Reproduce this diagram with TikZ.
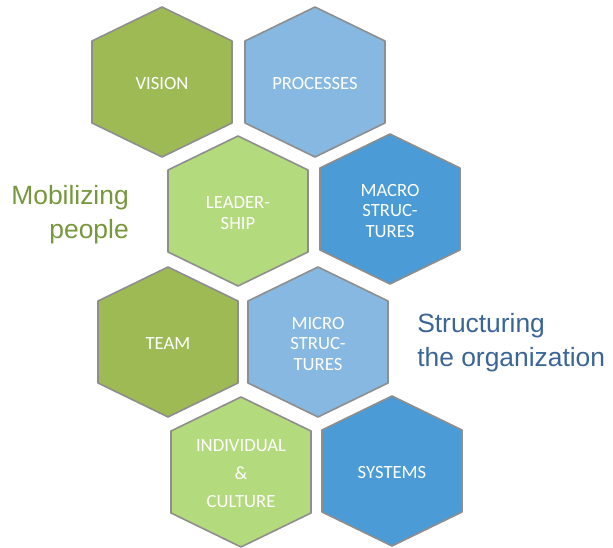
\documentclass[tikz,border=0pt]{standalone}
\usepackage{fontspec}
\setmainfont{Carlito}
\newfontfamily\arialfont{Liberation Sans}
\definecolor{olive}{HTML}{9DBA55}
\definecolor{lgreen}{HTML}{B3DA7C}
\definecolor{lblue}{HTML}{86B8E1}
\definecolor{dblue}{HTML}{4A9BD6}
\definecolor{edgegray}{HTML}{8E8E8E}
\definecolor{mobgreen}{HTML}{76973C}
\definecolor{strblue}{HTML}{3A6596}
\tikzset{
  hexline/.style={draw=edgegray, line width=1.2pt, line join=round},
  hextext/.style={text=white, font=\fontsize{14}{15.5}\selectfont, align=center, inner sep=0pt},
  sidetext/.style={font=\arialfont\fontsize{19.8}{25.5}\selectfont, inner sep=0pt},
}
\newcommand{\hexcell}[5]{%
  \draw[hexline, fill=#3] (#1,#2) ++(0,-75) -- ++(70,34) -- ++(0,82) -- ++(-70,34) -- ++(-70,-34) -- ++(0,-82) -- cycle;
  \node[hextext] (#4) at ([yshift=-1.5pt]#1,#2) {#5};
}
\begin{document}
\begin{tikzpicture}[x=0.75pt, y=-0.75pt]
\useasboundingbox (0,0) rectangle (613,548);
\hexcell{162}{82}{olive}{vision}{VISION}
\hexcell{315}{82}{lblue}{processes}{PROCESSES}
\hexcell{238}{211}{lgreen}{leadership}{LEADER-\\SHIP}
\hexcell{390}{209}{dblue}{macro}{MACRO\\STRUC-\\TURES}
\hexcell{168}{342}{olive}{team}{TEAM}
\hexcell{318}{342}{lblue}{micro}{MICRO\\STRUC-\\TURES}
\hexcell{241}{472}{lgreen}{individual}{INDIVIDUAL\\[5.5pt]\&\\[5.5pt]CULTURE}
\hexcell{392}{471}{dblue}{systems}{SYSTEMS}
\node[sidetext, text=mobgreen, anchor=east, align=right] (mob) at (129,215) {Mobilizing\\people};
\node[sidetext, text=strblue, anchor=west, align=left] (struct) at (417,343) {Structuring\\the organization};
\end{tikzpicture}
\end{document}
